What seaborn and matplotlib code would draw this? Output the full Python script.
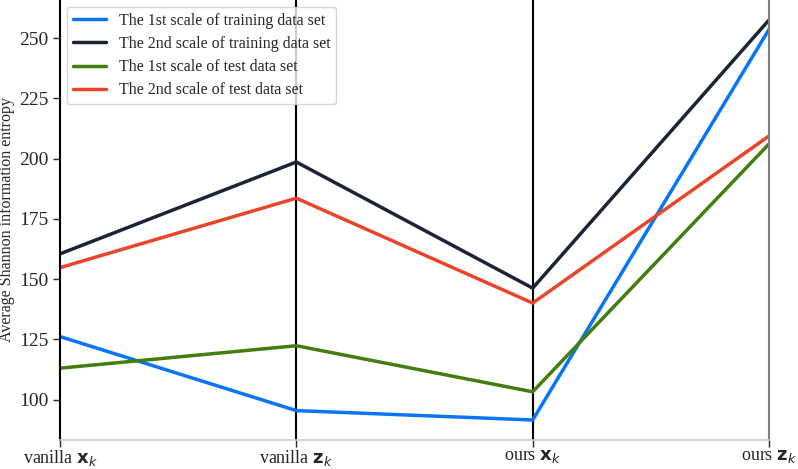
import matplotlib
matplotlib.use("Agg")
import matplotlib.pyplot as plt
import pandas as pd
import seaborn as sns

# ── Data ──────────────────────────────────────────────────────────────────────

stages = [r"vanilla $\mathbf{x}_k$", r"vanilla $\mathbf{z}_k$",
          r"ours $\mathbf{x}_k$", r"ours $\mathbf{z}_k$"]

train_scale1 = [126.2, 95.5, 91.6, 253.6]
train_scale2 = [160.5, 198.6, 146.3, 257.5]
test_scale1  = [113.1, 122.4, 103.3, 206.1]
test_scale2  = [154.8, 183.6, 140.1, 209.4]

series_names = [
    "The 1st scale of training data set",
    "The 2nd scale of training data set",
    "The 1st scale of test data set",
    "The 2nd scale of test data set",
]
colors = ["#0a74f7", "#1c2333", "#437c0f", "#e9452a"]

# ── Plot ──────────────────────────────────────────────────────────────────────

sns.set_style("ticks")
plt.rcParams["font.family"] = ["Liberation Serif", "DejaVu Serif"]
plt.rcParams["mathtext.fontset"] = "dejavusans"

rows = []
for name, vals in zip(series_names,
                      [train_scale1, train_scale2, test_scale1, test_scale2]):
    for i, v in enumerate(vals):
        rows.append({"stage": i, "series": name, "entropy": v})
df = pd.DataFrame(rows)

fig = plt.figure(figsize=(7.98, 4.69), dpi=100)
ax = fig.add_axes([60 / 798, 29 / 469, 709 / 798, 440 / 469])

sns.lineplot(data=df, x="stage", y="entropy", hue="series",
             hue_order=series_names, palette=colors, linewidth=2.5,
             sort=False, ax=ax)

for xv in [1, 2]:
    ax.axvline(xv, color="black", linewidth=1.5, zorder=0)

ax.set_xlim(0, 3)
ax.set_xticks(range(len(stages)))
ax.set_xticklabels(stages, fontsize=13)
ax.set_yticks([100, 125, 150, 175, 200, 225, 250])
ax.tick_params(axis="y", labelsize=14, length=5, width=1)
ax.tick_params(axis="x", length=5, width=1, pad=1)
ax.set_xlabel("")
ax.set_ylabel("Average Shannon information entropy", fontsize=11.5,
              labelpad=3)

ax.spines["top"].set_visible(False)
ax.spines["left"].set_color("black")
ax.spines["left"].set_linewidth(1.5)
ax.spines["right"].set_color("#808080")
ax.spines["right"].set_linewidth(1.5)
ax.spines["bottom"].set_color("#cccccc")
ax.spines["bottom"].set_linewidth(1.2)

ax.legend(loc="upper left", fontsize=11.5, frameon=True,
          bbox_to_anchor=(0.0, 1.0), borderaxespad=0.45,
          handlelength=2.1, borderpad=0.35, labelspacing=0.45,
          handletextpad=0.8)

fig.savefig("out.png", dpi=100)
plt.close(fig)
